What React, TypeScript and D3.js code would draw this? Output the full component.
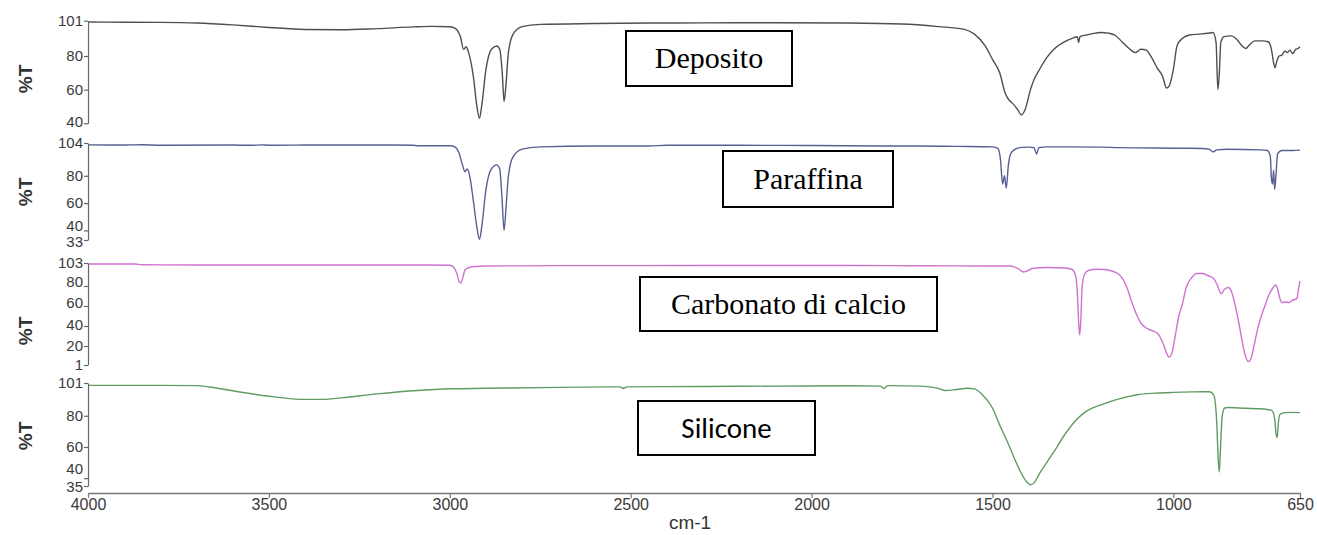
import React, { useEffect, useRef } from "react";
import * as d3 from "d3";

type Pt = [number, number];

// ---------------- data ----------------
const xTicks = [4000, 3500, 3000, 2500, 2000, 1500, 1000, 650];

const depositoTicks = [101, 80, 60, 40];
const paraffinaTicks = [104, 80, 60, 40, 33];
const carbonatoTicks = [103, 80, 60, 40, 20, 1];
const siliconeTicks = [101, 80, 60, 40, 35];

const deposito: Pt[] = [
  [4000, 100.2], [3900, 100.1], [3800, 100], [3700, 99.6], [3600, 98.5], [3500, 97], [3400, 95.8],
  [3300, 95.6], [3200, 96.3], [3100, 97.3], [3050, 97.6], [3000, 97.4], [2985, 96.5], [2970, 91],
  [2962, 84], [2955, 85.5], [2948, 82], [2935, 68], [2925, 50], [2918, 43], [2912, 50], [2900, 72],
  [2885, 84], [2870, 86], [2862, 84], [2855, 70], [2850, 53], [2845, 62], [2838, 82], [2825, 93],
  [2800, 97.5], [2750, 98.8], [2600, 99.3], [2450, 99.6], [2300, 99.7], [2100, 99.8], [1900, 99.6],
  [1750, 99], [1650, 97.5], [1580, 96], [1550, 93], [1520, 86], [1500, 78], [1480, 70], [1465, 58],
  [1455, 54], [1445, 52], [1430, 48], [1420, 45], [1410, 48], [1395, 60], [1385, 66], [1370, 72],
  [1350, 79], [1330, 84], [1300, 88.5], [1280, 90.5], [1265, 91.5], [1262, 88], [1258, 91.5],
  [1240, 92.5], [1220, 93.5], [1200, 94], [1180, 93.6], [1160, 92.2], [1140, 88], [1120, 84],
  [1105, 82], [1090, 84], [1075, 83.5], [1060, 79], [1045, 73], [1030, 68], [1019, 61], [1012, 62],
  [1000, 72], [990, 86], [975, 90.5], [955, 92.5], [930, 93], [905, 93.5], [890, 94], [882, 88],
  [877, 60], [873, 70], [869, 88], [860, 91.5], [840, 92], [825, 90], [810, 86], [800, 84.5],
  [790, 86.5], [775, 89], [755, 89], [738, 88.5], [730, 85], [722, 75], [719, 73], [714, 77],
  [708, 80], [700, 80.5], [692, 83], [685, 82], [678, 83.5], [670, 81.5], [662, 84], [655, 84.5],
  [650, 85.5],
];

const paraffina: Pt[] = [
  [4000, 102.6], [3900, 102.5], [3850, 102.7], [3800, 102.4], [3600, 102.5], [3550, 102.3],
  [3520, 102.6], [3500, 102.4], [3400, 102.5], [3200, 102.5], [3100, 102.4], [3090, 102.0],
  [3000, 102.0], [2985, 101], [2975, 97], [2965, 88], [2958, 83], [2952, 85], [2945, 80], [2935, 62],
  [2925, 42], [2918, 33.5], [2912, 42], [2900, 70], [2885, 85], [2870, 88], [2862, 85], [2856, 65],
  [2850, 40], [2845, 55], [2838, 80], [2825, 94], [2800, 99.5], [2750, 101.2], [2600, 101.8],
  [2450, 101.8], [2400, 102.3], [2200, 102.3], [2000, 102.2], [1800, 101.8], [1700, 101.8],
  [1600, 101.5], [1500, 101.2], [1485, 100], [1478, 92], [1472, 74], [1467, 80], [1462, 71],
  [1456, 88], [1450, 96], [1440, 99], [1420, 100.8], [1400, 101], [1385, 100.5], [1378, 96],
  [1372, 100.5], [1350, 101.2], [1200, 101], [1150, 100.6], [1000, 100.2], [920, 100], [900, 99.3],
  [890, 97.5], [880, 99], [850, 99.4], [760, 99], [740, 98.5], [732, 94], [729, 78], [726, 74],
  [723, 84], [720, 70], [716, 82], [712, 96], [700, 98.5], [670, 98.5], [650, 98.8],
];

const carbonato: Pt[] = [
  [4000, 102], [3870, 102], [3850, 101.2], [3700, 101], [3500, 101], [3300, 101], [3100, 101],
  [3000, 100.8], [2990, 99], [2980, 92], [2975, 85], [2970, 83], [2965, 87], [2958, 96], [2950, 98],
  [2930, 99.5], [2900, 100], [2700, 100.4], [2500, 100.4], [2300, 100.5], [2000, 100.5],
  [1800, 100.4], [1600, 100.1], [1450, 100], [1430, 97.5], [1415, 94], [1405, 95], [1390, 97.5],
  [1350, 98.5], [1300, 98], [1280, 96.5], [1270, 90], [1265, 70], [1262, 45], [1259, 31],
  [1256, 45], [1252, 80], [1245, 92], [1235, 95.5], [1210, 96.7], [1190, 96.5], [1170, 95],
  [1150, 91.5], [1130, 80], [1115, 64], [1100, 50], [1090, 43], [1075, 38], [1060, 35.5],
  [1045, 33], [1030, 24], [1020, 14], [1012, 9], [1005, 12], [995, 30], [985, 50], [975, 62],
  [965, 78], [950, 88], [935, 92.5], [920, 92.5], [905, 90.5], [890, 88], [880, 82], [868, 72.5],
  [858, 77], [848, 78.5], [840, 75], [830, 62], [820, 45], [810, 25], [800, 9], [792, 4.5],
  [785, 8], [775, 24], [765, 40], [755, 52], [745, 62], [735, 72], [725, 78], [718, 81], [712, 77],
  [706, 68], [700, 63.5], [690, 64], [680, 63.5], [670, 66], [664, 66.5], [658, 68], [655, 75],
  [650, 85],
];

const silicone: Pt[] = [
  [4000, 99.5], [3800, 99.5], [3700, 99.3], [3650, 98], [3600, 96], [3500, 92.5], [3400, 90.5],
  [3350, 90.5], [3300, 91.5], [3200, 94], [3100, 96], [3000, 97.3], [2900, 97.6], [2700, 98.2],
  [2530, 98.5], [2520, 97.5], [2510, 98.5], [2300, 98.8], [2100, 99], [1900, 99.2], [1810, 99],
  [1800, 97.5], [1790, 99.3], [1700, 99], [1650, 97.6], [1630, 96.2], [1600, 96.8], [1570, 97.6],
  [1550, 97.2], [1530, 94], [1500, 85], [1480, 74], [1460, 64], [1440, 53], [1420, 43],
  [1405, 37.5], [1395, 35.8], [1385, 37], [1370, 43], [1350, 50], [1330, 57], [1300, 68],
  [1270, 77], [1240, 83], [1200, 87], [1150, 90.8], [1100, 93.5], [1050, 94.5], [1000, 95],
  [950, 95.3], [900, 95.4], [888, 93], [880, 75], [876, 52], [873, 44], [870, 58], [865, 80],
  [858, 85], [850, 85.3], [800, 84.8], [760, 84.5], [728, 83.5], [720, 78], [716, 68], [713, 66],
  [710, 75], [705, 81], [690, 82], [670, 82.2], [650, 82],
];

// ---------------- layout ----------------
const W = 1317;
const H = 535;
const X0 = 88;
const X1 = 1300;
const SANS = "'Liberation Sans', Arial, sans-serif";
const SERIF = "'Liberation Serif', 'Times New Roman', serif";

interface Panel {
  name: string;
  data: Pt[];
  ticks: number[];
  top: number;
  bottom: number;
  color: string;
  ylabelY: number;
  shift: Record<number, number>;
  box: { x: number; y: number; w: number; h: number; font: string; size: number };
}

const panels: Panel[] = [
  {
    name: "Deposito", data: deposito, ticks: depositoTicks, top: 20.7, bottom: 123.3,
    color: "#4f4f4f", ylabelY: 79, shift: { 40: -2 },
    box: { x: 626, y: 31, w: 166, h: 55, font: SERIF, size: 30 },
  },
  {
    name: "Paraffina", data: paraffina, ticks: paraffinaTicks, top: 143, bottom: 240,
    color: "#585f92", ylabelY: 192, shift: { 104: 0, 40: -5, 33: 2 },
    box: { x: 723, y: 151, w: 170, h: 56, font: SERIF, size: 30 },
  },
  {
    name: "Carbonato di calcio", data: carbonato, ticks: carbonatoTicks, top: 263, bottom: 365,
    color: "#cf72cf", ylabelY: 331, shift: { 80: -4, 60: -3, 40: -1 },
    box: { x: 640, y: 277, w: 297, h: 54, font: SERIF, size: 30 },
  },
  {
    name: "Silicone", data: silicone, ticks: siliconeTicks, top: 383, bottom: 486,
    color: "#5f9c62", ylabelY: 436, shift: { 40: -10, 35: 1 },
    box: { x: 638, y: 401, w: 177, h: 54, font: "Carlito, Lato, 'Open Sans', sans-serif", size: 29 },
  },
];

const AXIS_Y = 493;

export default function App() {
  const ref = useRef<SVGSVGElement | null>(null);
  const x = d3.scaleLinear().domain([4000, 650]).range([X0, X1]);

  useEffect(() => {
    if (!ref.current) return;
    const svg = d3.select(ref.current);
    svg.selectAll(".ax").remove();
    panels.forEach((p) => {
      const tmin = d3.min(p.ticks) as number;
      const tmax = d3.max(p.ticks) as number;
      const y = d3.scaleLinear().domain([tmin, tmax]).range([p.bottom, p.top]);
      const g = svg
        .append("g")
        .attr("class", "ax")
        .attr("transform", `translate(${X0},0)`)
        .call(d3.axisLeft(y).tickValues(p.ticks).tickSize(4).tickSizeOuter(0).tickFormat(d3.format("d")));
      g.select(".domain").attr("stroke", "#666").attr("stroke-width", 1.2);
      g.selectAll(".tick line").attr("stroke", "#666").attr("stroke-width", 1.2);
      g.selectAll<SVGTextElement, number>(".tick text")
        .attr("fill", "#3a3a3a")
        .attr("font-size", 15)
        .attr("x", -5)
        .attr("y", (d) => p.shift[d] || 0)
        .attr("font-family", SANS);
    });
    const gx = svg
      .append("g")
      .attr("class", "ax")
      .attr("transform", `translate(0,${AXIS_Y})`)
      .call(d3.axisBottom(x).tickValues(xTicks).tickSize(5).tickSizeOuter(0).tickFormat(d3.format("d")));
    gx.select(".domain").attr("stroke", "#777").attr("stroke-width", 1.5);
    gx.selectAll(".tick line").attr("stroke", "#777").attr("stroke-width", 1.2);
    gx.selectAll(".tick text")
      .attr("fill", "#3a3a3a")
      .attr("font-size", 16)
      .attr("y", 6)
      .attr("font-family", SANS);
  }, []);

  return (
    <svg
      ref={ref}
      width={W}
      height={H}
      style={{ position: "absolute", left: 0, top: 0, background: "#fff" }}
    >
      {panels.map((p) => {
        const tmin = d3.min(p.ticks) as number;
        const tmax = d3.max(p.ticks) as number;
        const y = d3.scaleLinear().domain([tmin, tmax]).range([p.bottom, p.top]);
        const line = d3
          .line<Pt>()
          .x((d) => x(d[0]))
          .y((d) => y(d[1]))
          .curve(d3.curveMonotoneX);
        return (
          <g key={p.name}>
            <path d={line(p.data) || ""} fill="none" stroke={p.color} strokeWidth={1.4} strokeLinejoin="round" />
            <text
              transform={`translate(32,${p.ylabelY}) rotate(-90)`}
              textAnchor="middle"
              fontFamily={SANS}
              fontSize={19}
              fontWeight="bold"
              fill="#333"
            >
              %T
            </text>
            <rect x={p.box.x} y={p.box.y} width={p.box.w} height={p.box.h} fill="#fff" stroke="#000" strokeWidth={2} />
            <text
              x={p.box.x + p.box.w / 2}
              y={p.box.y + p.box.h / 2 + p.box.size * 0.33}
              textAnchor="middle"
              fontFamily={p.box.font}
              fontSize={p.box.size}
              fill="#000"
            >
              {p.name}
            </text>
          </g>
        );
      })}
      <text x={690} y={529} textAnchor="middle" fontFamily={SANS} fontSize={19} fill="#333">
        cm-1
      </text>
    </svg>
  );
}
